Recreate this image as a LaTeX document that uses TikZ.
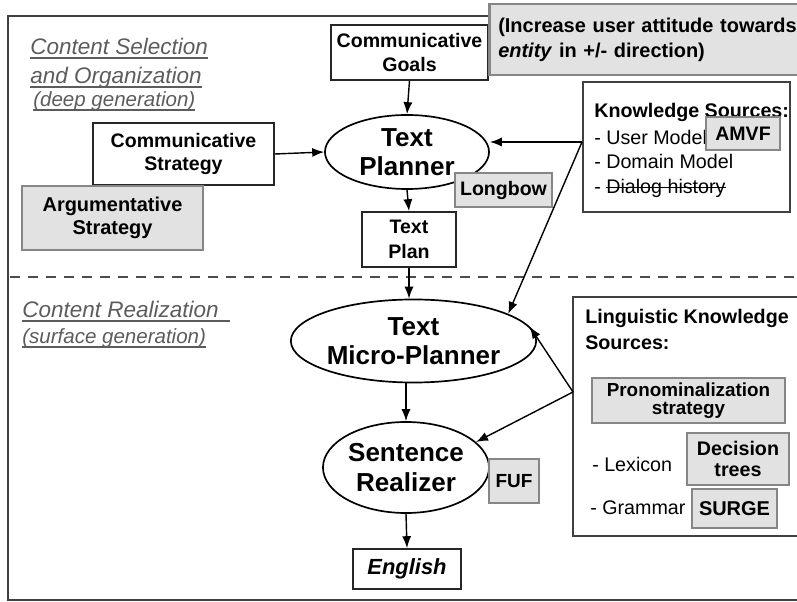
\documentclass[tikz,border=0pt]{standalone}
\usepackage{fontspec}
\setmainfont{Liberation Sans}
\usetikzlibrary{arrows.meta,shapes.geometric}
\definecolor{boxgray}{HTML}{E2E2E2}
\definecolor{rimgray}{HTML}{868686}
\definecolor{txtgray}{HTML}{5C5C5C}
\newsavebox{\lnbox}
\newcommand{\ulin}[1]{\sbox{\lnbox}{#1}\rlap{\raisebox{-2.5pt}{\rule{\wd\lnbox}{0.9pt}}}\usebox{\lnbox}}
\newcommand{\strk}[1]{\sbox{\lnbox}{#1}\rlap{\raisebox{0.3em}{\rule{\wd\lnbox}{0.7pt}}}\usebox{\lnbox}}
\tikzset{%
  >={Latex[length=8.5pt,width=6.5pt]},
  box/.style={draw=black!85,rectangle,line width=1.2pt,align=center,inner sep=0pt,
    font=\fontsize{13.9}{16.4}\selectfont\bfseries},
  gbox/.style={box,fill=boxgray,draw=rimgray,line width=1.8pt},
  oval/.style={draw,ellipse,line width=1.2pt,align=center,inner sep=0pt,
    font=\fontsize{18.5}{21}\selectfont\bfseries},
  line/.style={draw,line width=1pt,->}
}
\begin{document}
\begin{tikzpicture}[x=0.025cm,y=-0.025cm,
	ttl/.style={anchor=base west,inner sep=0pt,text=txtgray,%
		font=\fontsize{16}{19}\selectfont\itshape},
	sub/.style={ttl,font=\fontsize{14.6}{17}\selectfont\itshape},
	lbl/.style={anchor=base west,inner sep=0pt,font=\fontsize{14}{16}\selectfont},
	hd/.style={lbl,font=\fontsize{14}{16}\selectfont\bfseries}]
	\useasboundingbox (0,0) rectangle (797,602);
	\clip (0,0) rectangle (797,602);
	
	% frame and level divider
	\draw[black!75,line width=1.3pt] (797,16) -- (8,16) -- (8,600) -- (797,600);
	\draw[black!70,line width=2pt,dash pattern=on 7.1pt off 5.7pt] (10,277) -- (797,277);
	
	\node[ttl] (sel1) at (30,55) {\ulin{Content Selection}};
	\node[ttl] (sel2) at (30,84) {\ulin{and Organization}};
	\node[sub] (sel3) at (33,107) {\ulin{(deep generation)}};
	\node[ttl] (real1) at (22,318) {\ulin{Content Realization\hspace{8pt}}};
	\node[sub] (real2) at (22,344) {\ulin{(surface generation)}};
	
	\node[box,minimum width=3.925cm,minimum height=1.375cm] (goals) at (409.5,52.5) {Communicative\\Goals};
	\node[gbox,anchor=west,minimum width=8.05cm,minimum height=1.775cm,text width=7.6cm,align=left,%
		font=\fontsize{14.2}{17.8}\selectfont\bfseries] (aim) at (488,39.5)
		{(Increase user attitude towards\\\textit{entity} in +/- direction)};
	
	\node[oval,minimum width=4.1cm,minimum height=1.85cm] (tp) at (407,152) {Text\\Planner};
	\node[box,minimum width=4.525cm,minimum height=1.55cm] (strat) at (183.5,154) {Communicative\\Strategy};
	\node[gbox,minimum width=4.525cm,minimum height=1.6cm,font=\fontsize{14.2}{16.4}\selectfont\bfseries] (arg) at (112.5,218) {Argumentative\\Strategy};
	\node[box,minimum width=2.35cm,minimum height=1.375cm,font=\fontsize{13.9}{17.8}\selectfont\bfseries] (plan) at (409,239.5) {Text\\Plan};
	\node[gbox,minimum width=2.425cm,minimum height=0.85cm] (lb) at (503.5,190) {Longbow};
	
	\node[box,draw=black!75,minimum width=5.175cm,minimum height=3.25cm] (ks) at (686.5,147) {};
	\node[hd] (kshead) at (594,118) {Knowledge Sources:};
	\node[lbl] (um) at (594,145) {- User Model};
	\node[lbl] (dm) at (594,169) {- Domain Model};
	\node[lbl] (dh) at (594,194) {- \strk{Dialog history}};
	\node[gbox,minimum width=1.85cm,minimum height=0.825cm] (amvf) at (743,133.5) {AMVF};
	\coordinate (ksout) at (582,142);
	
	\node[oval,minimum width=6.075cm,minimum height=2.075cm] (mp) at (413.5,341) {Text\\Micro-Planner};
	\node[oval,minimum width=4.15cm,minimum height=2.275cm] (sr) at (406,467.5) {Sentence\\Realizer};
	\node[gbox,minimum width=1.25cm,minimum height=1.1cm,font=\fontsize{13.5}{16}\selectfont\bfseries] (fuf) at (514,481) {FUF};
	\node[box,minimum width=2.7cm,minimum height=1cm,font=\fontsize{15.6}{18}\selectfont\bfseries\itshape] (eng) at (407,569) {English};
	
	\node[box,draw=black!75,minimum width=5.8cm,minimum height=5.975cm] (lks) at (689,416.5) {};
	\node[hd] (lkshead) at (585,324) {Linguistic Knowledge};
	\node[hd] (lkshead2) at (585,350) {Sources:};
	\node[gbox,minimum width=4.825cm,minimum height=1.125cm,font=\fontsize{13.4}{13}\selectfont\bfseries] (pron) at (688.5,400.5) {Pronominalization\\strategy};
	\node[lbl] (lex) at (592,472) {- Lexicon};
	\node[lbl] (gram) at (590,515) {- Grammar};
	\node[gbox,minimum width=2.55cm,minimum height=1.3cm,font=\fontsize{14}{14.5}\selectfont\bfseries] (dec) at (738,459) {Decision\\trees};
	\node[gbox,minimum width=2.125cm,minimum height=0.975cm,font=\fontsize{14.2}{16}\selectfont\bfseries] (surge) at (734.5,508.5) {SURGE};
	\coordinate (lksout) at (573,392);
	
	\draw[line] (goals.south) -- (tp.north);
	\draw[line] (strat.east) -- (tp.west);
	\draw[line] (tp.south) -- (plan.north);
	\draw[line] (ksout) -- (ksout -| tp.east);
	\draw[line] (ksout) -- (mp.16);
	\draw[line] (plan.south) -- (mp.north -| plan.south);
	\draw[line] (lksout) -- (mp.7);
	\draw[line] (lksout) -- (sr.20);
	\draw[line] (mp.south -| sr.north) -- (sr.north);
	\draw[line] (sr.south) -- (eng.north);
\end{tikzpicture}
\end{document}
